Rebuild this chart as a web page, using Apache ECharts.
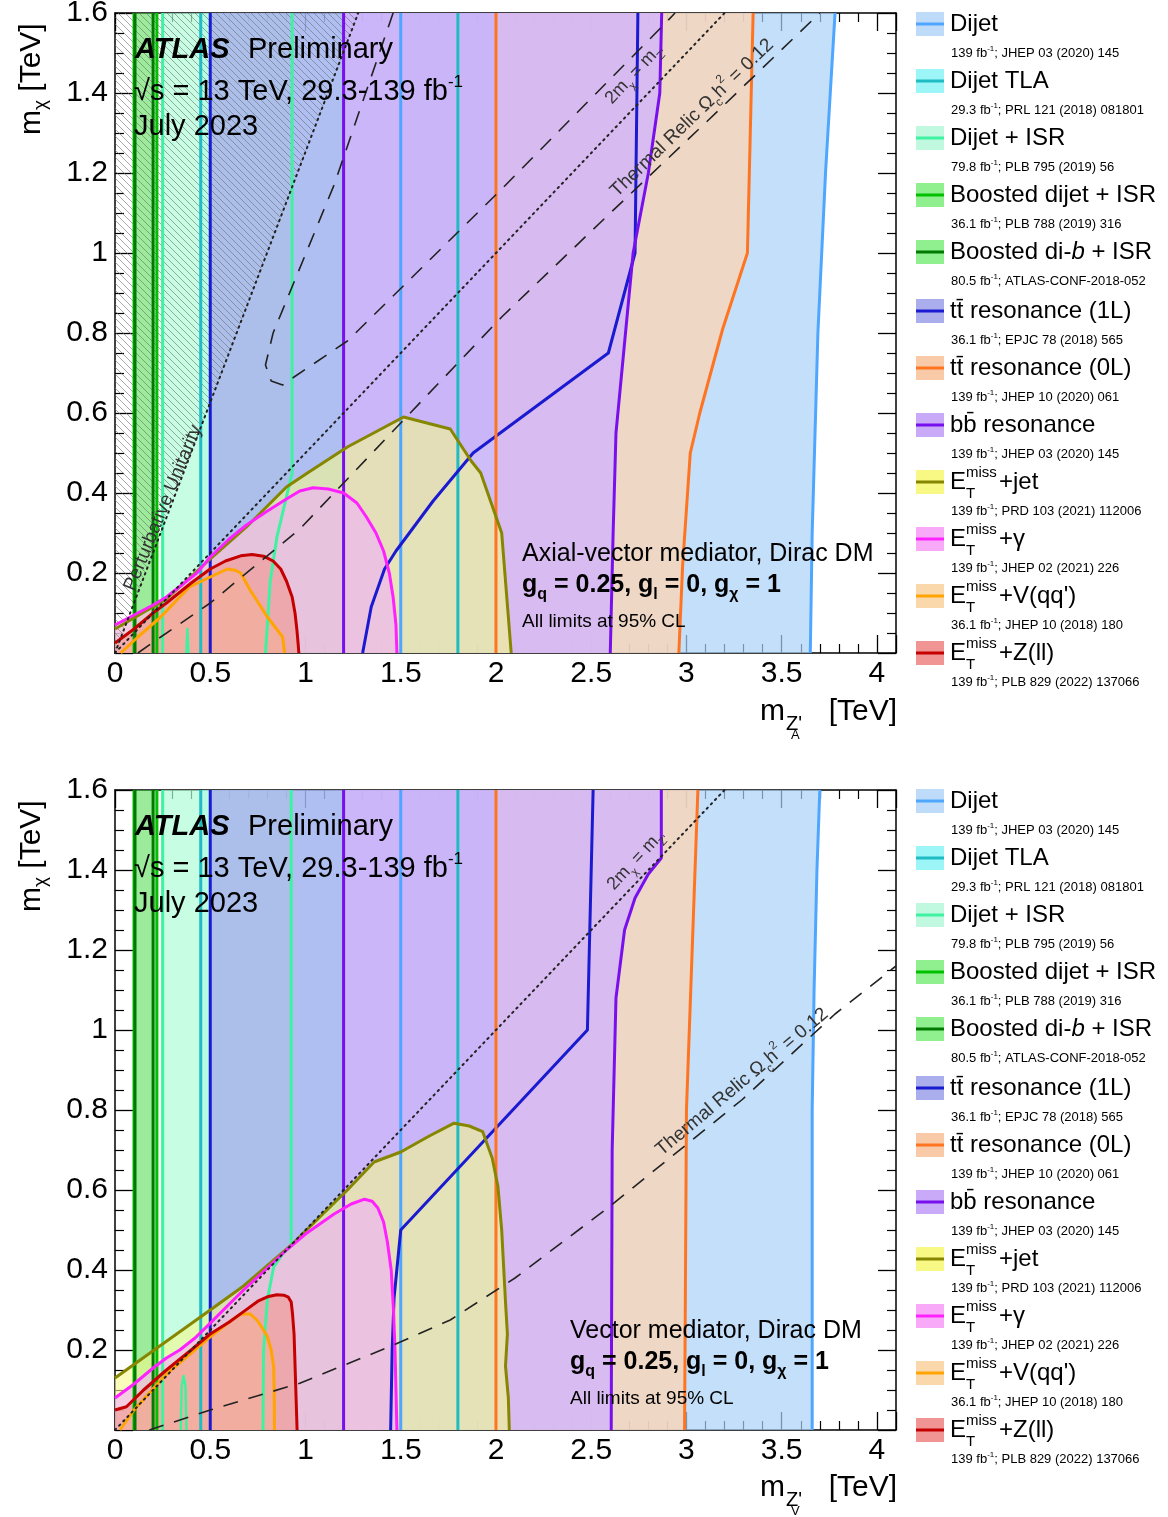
<!DOCTYPE html>
<html><head><meta charset="utf-8">
<script src="https://cdn.jsdelivr.net/npm/echarts/dist/echarts.min.js"></script>
<style>html,body{margin:0;padding:0;background:#fff}#c{width:1168px;height:1517px}</style>
</head><body><div id="c"></div>
<script>
// ---------------- DATA (TeV) ----------------
// Axial-vector mediator (top panel)
const dijetA = [[1.5,0],[1.5,1.6],[3.78,1.6],[3.73,1.2],[3.69,0.8],[3.66,0.3],[3.65,0]];
const tlaA = [[0.45,0],[0.45,1.6],[1.8,1.6],[1.8,0]];
const isrA = [[0.25,0],[0.25,1.6],[0.93,1.6],[0.93,0.45],[0.9,0.39],[0.85,0.29],[0.815,0.18],[0.79,0]];
const boostedDijetA = [[0.1,0],[0.1,1.6],[0.22,1.6],[0.22,0]];
const boostedDibA = [[0.105,0],[0.105,1.6],[0.2,1.6],[0.2,0]];
const tt1LA = [[0.5,0],[0.5,1.6],[2.745,1.6],[2.73,1.0],[2.59,0.75],[1.88,0.5],[1.67,0.38],[1.475,0.255],[1.415,0.21],[1.345,0.115],[1.3,0]];
const tt0LA = [[2.0,0],[2.0,1.6],[3.35,1.6],[3.32,1.0],[3.19,0.81],[3.07,0.6],[3.02,0.5],[2.98,0.22],[2.96,0]];
const bbA = [[1.2,0],[1.2,1.6],[2.87,1.6],[2.86,1.4],[2.8,1.2],[2.72,1.0],[2.68,0.8],[2.63,0.55],[2.615,0.3],[2.6,0]];
const jetA = [[0,0],[0,0.06],[0.27,0.135],[0.5,0.235],[0.69,0.315],[0.9,0.415],[1.01,0.45],[1.22,0.515],[1.515,0.59],[1.76,0.56],[1.87,0.48],[1.92,0.45],[2.03,0.3],[2.08,0]];
const gammaA = [[0,0],[0,0.07],[0.1,0.095],[0.2,0.12],[0.27,0.14],[0.35,0.17],[0.43,0.2],[0.5,0.24],[0.6,0.285],[0.69,0.32],[0.8,0.355],[0.9,0.385],[0.97,0.405],[1.04,0.413],[1.12,0.41],[1.2,0.4],[1.27,0.375],[1.32,0.34],[1.37,0.3],[1.41,0.255],[1.44,0.2],[1.46,0.14],[1.475,0.07],[1.48,0]];
const vqqA = [[0.03,0],[0.12,0.04],[0.24,0.09],[0.39,0.165],[0.5,0.19],[0.59,0.21],[0.63,0.207],[0.66,0.2],[0.71,0.157],[0.8,0.09],[0.88,0.04],[0.89,0]];
const zllA = [[0,0],[0,0.025],[0.1,0.06],[0.2,0.1],[0.27,0.125],[0.4,0.175],[0.5,0.21],[0.58,0.23],[0.66,0.243],[0.72,0.246],[0.78,0.242],[0.83,0.23],[0.87,0.21],[0.9,0.18],[0.93,0.14],[0.945,0.1],[0.955,0.058],[0.962,0.02],[0.965,0]];
const isrSpikeA = [[0.375,0],[0.38,0.06],[0.385,0]];
const relicLowerA = [[0.12,0],[0.24,0.04],[0.5,0.125],[0.97,0.31],[1.41,0.53],[2.03,0.84],[2.6,1.1],[3.11,1.33],[3.7,1.6]];
const relicUpperA = [[1.46,1.6],[1.15,1.17],[0.83,0.8],[0.79,0.72],[0.82,0.68],[0.88,0.67],[0.94,0.69],[1.22,0.78],[2.03,1.16],[2.88,1.57],[2.94,1.6]];
const unitarityA = [[0,0],[1.277,1.6]];

// Vector mediator (bottom panel)
const dijetV = [[1.5,0],[1.5,1.6],[3.70,1.6],[3.685,1.4],[3.67,1.1],[3.66,0.8],[3.66,0]];
const tlaV = [[0.45,0],[0.45,1.6],[1.8,1.6],[1.8,0]];
const isrV = [[0.25,0],[0.25,1.6],[0.925,1.6],[0.925,0.46],[0.88,0.44],[0.833,0.408],[0.8,0.325],[0.78,0.2],[0.777,0]];
const boostedDijetV = [[0.1,0],[0.1,1.6],[0.22,1.6],[0.22,0]];
const boostedDibV = [[0.105,0],[0.105,1.6],[0.2,1.6],[0.2,0]];
const tt1LV = [[0.5,0],[0.5,1.6],[2.51,1.6],[2.48,1.0],[1.5,0.5],[1.465,0.33],[1.455,0.2],[1.447,0]];
const tt0LV = [[2.0,0],[2.0,1.6],[3.06,1.6],[3.03,1.2],[3.0,0.8],[2.99,0]];
const bbV = [[1.2,0],[1.2,1.6],[2.868,1.6],[2.868,1.43],[2.8,1.39],[2.73,1.33],[2.675,1.25],[2.63,1.08],[2.61,0.7],[2.605,0]];
const jetV = [[0,0],[0,0.13],[0.5,0.3],[0.675,0.36],[0.92,0.46],[1.22,0.6],[1.36,0.67],[1.5,0.695],[1.65,0.735],[1.78,0.767],[1.86,0.76],[1.93,0.746],[1.98,0.68],[2.01,0.61],[2.03,0.5],[2.04,0.41],[2.05,0.32],[2.06,0.24],[2.05,0.16],[2.065,0.08],[2.07,0]];
const gammaV = [[0,0],[0,0.08],[0.1,0.115],[0.2,0.155],[0.27,0.18],[0.34,0.2],[0.42,0.23],[0.5,0.267],[0.6,0.315],[0.675,0.35],[0.8,0.405],[0.9,0.45],[1.0,0.49],[1.15,0.54],[1.24,0.565],[1.31,0.577],[1.35,0.572],[1.38,0.555],[1.41,0.52],[1.43,0.47],[1.45,0.4],[1.462,0.3],[1.47,0.2],[1.475,0.1],[1.48,0]];
const vqqV = [[0.026,0],[0.1,0.05],[0.27,0.14],[0.5,0.233],[0.6,0.27],[0.66,0.29],[0.71,0.29],[0.745,0.275],[0.78,0.25],[0.8,0.233],[0.82,0.2],[0.833,0.158],[0.836,0.08],[0.837,0]];
const zllV = [[0,0],[0,0.05],[0.06,0.058],[0.15,0.1],[0.27,0.15],[0.4,0.2],[0.5,0.24],[0.6,0.27],[0.675,0.296],[0.75,0.322],[0.8,0.333],[0.85,0.338],[0.886,0.337],[0.91,0.332],[0.925,0.32],[0.932,0.29],[0.94,0.24],[0.948,0.12],[0.956,0]];
const isrSpikeV = [[0.345,0],[0.35,0.11],[0.36,0.135],[0.37,0.11],[0.375,0]];
const relicV = [[0.18,0],[0.5,0.05],[0.97,0.117],[1.45,0.21],[1.76,0.275],[2.1,0.38],[2.6,0.56],[3.29,0.825],[3.78,1.04],[4.1,1.16]];

const pairLine = [[0,0],[3.2,1.6]];   // 2 m_chi = m_Z'

// Legend
const legendNames = ['Dijet','Dijet TLA','Dijet + ISR','Boosted dijet + ISR','Boosted di-{i|b} + ISR',
  'tt\u0304 resonance (1L)','tt\u0304 resonance (0L)','bb\u0304 resonance','+jet','+\u03b3','+V(qq\')','+Z(ll)'];
const legendLumi = ['139','29.3','79.8','36.1','80.5','36.1','139','139','139','139','36.1','139'];
const legendRefs = ['JHEP 03 (2020) 145','PRL 121 (2018) 081801','PLB 795 (2019) 56','PLB 788 (2019) 316',
  'ATLAS-CONF-2018-052','EPJC 78 (2018) 565','JHEP 10 (2020) 061','JHEP 03 (2020) 145','PRD 103 (2021) 112006',
  'JHEP 02 (2021) 226','JHEP 10 (2018) 180','PLB 829 (2022) 137066'];
const legendMet = [false,false,false,false,false,false,false,false,true,true,true,true];

// ---------------- STYLES ----------------
const FONT = "'Liberation Sans', Arial, Helvetica, sans-serif";
const STY = [
  {fill:'rgba(170,210,248,0.7)', leg:'#bedcfa', line:'#4fa6ff'},   // Dijet
  {fill:'rgba(150,245,245,0.5)', leg:'#9cf6f8', line:'#1fbcc4'},   // TLA
  {fill:'rgba(175,252,215,0.7)', leg:'#c0f9e0', line:'#3ff2a2'},   // Dijet+ISR
  {fill:'rgba(60,220,60,0.35)',  leg:'#90f090', line:'#00c000'},   // Boosted dijet
  {fill:'rgba(60,210,60,0.25)',  leg:'#90f090', line:'#007a00'},   // Boosted di-b
  {fill:'rgba(165,165,238,0.7)', leg:'#aaaeec', line:'#1a1ad0'},   // tt 1L
  {fill:'rgba(250,212,185,0.8)', leg:'#f8caa8', line:'#ff7420'},   // tt 0L
  {fill:'rgba(210,180,250,0.8)', leg:'#c8aaf8', line:'#7810ee'},   // bb
  {fill:'rgba(245,250,140,0.6)', leg:'#f8f884', line:'#868600'},   // MET+jet
  {fill:'rgba(240,175,250,0.6)', leg:'#f8aaf8', line:'#ff22ff'},   // MET+gamma
  {fill:'rgba(250,215,170,0.6)', leg:'#fad8ac', line:'#ffa400'},   // MET+V
  {fill:'rgba(240,150,140,0.6)', leg:'#f09494', line:'#c40000'}    // MET+Z
];
const BAND = [true,true,true,true,true,true,true,true,false,false,false,false];

const panels = [
  {xi:0, yi:0, regions:[dijetA,tlaA,isrA,boostedDijetA,boostedDibA,tt1LA,tt0LA,bbA,jetA,gammaA,vqqA,zllA],
   spike:isrSpikeA, relic:[relicLowerA, relicUpperA], hatch:unitarityA},
  {xi:2, yi:2, regions:[dijetV,tlaV,isrV,boostedDijetV,boostedDibV,tt1LV,tt0LV,bbV,jetV,gammaV,vqqV,zllV],
   spike:isrSpikeV, relic:[relicV], hatch:null}
];

// hatch pattern
const hc = document.createElement('canvas'); hc.width = 7; hc.height = 7;
(function(){ const c = hc.getContext('2d'); c.strokeStyle = 'rgba(110,110,110,0.6)'; c.lineWidth = 1;
  c.beginPath(); c.moveTo(0,0); c.lineTo(7,7); c.moveTo(-1,6); c.lineTo(1,8); c.moveTo(6,-1); c.lineTo(8,1); c.stroke(); })();
const HATCH = {image: hc, repeat: 'repeat'};

// ---------------- SERIES ----------------
function fillSeries(pts, fill, xi, yi) {
  return {type:'custom', xAxisIndex:xi, yAxisIndex:yi, silent:true, z:2, data:pts,
    encode:{x:0, y:1},
    renderItem: function(params, api) {
      if (params.dataIndex !== 0) return null;
      return {type:'polygon', shape:{points: pts.map(p => api.coord(p))}, style:{fill: fill, stroke: null}};
    }};
}
function lineSeries(pts, color, width, type, xi, yi, z) {
  return {type:'line', xAxisIndex:xi, yAxisIndex:yi, data:pts, silent:true, z:z||4,
    symbol:'none', showSymbol:false, smooth:false,
    lineStyle:{color:color, width:width, type:type||'solid', cap: Array.isArray(type) && type[0] < 3 ? 'round' : 'butt', join:'round'}};
}
const series = [];
panels.forEach(P => {
  P.regions.forEach((poly, k) => series.push(fillSeries(poly, STY[k].fill, P.xi, P.yi)));
  if (P.hatch) series.push(fillSeries([[0,0],[0,1.6],P.hatch[1]], HATCH, P.xi, P.yi));
  P.regions.forEach((poly, k) => {
    if (BAND[k]) {
      series.push(lineSeries(poly.slice(0,2), STY[k].line, 3, 'solid', P.xi, P.yi));
      series.push(lineSeries(poly.slice(2), STY[k].line, 3, 'solid', P.xi, P.yi));
    } else {
      const e = (poly[0][0] === 0 && poly[1][0] === 0) ? poly.slice(1) : poly;
      series.push(lineSeries(e, STY[k].line, 3, 'solid', P.xi, P.yi));
    }
  });
  series.push(lineSeries(P.spike, STY[2].line, 2.5, 'solid', P.xi, P.yi));
  P.relic.forEach(r => series.push(lineSeries(r, '#222', 1.6, [15,11], P.xi, P.yi, 5)));
  series.push(lineSeries(pairLine, '#222', 2, [1.5,4.5], P.xi, P.yi, 5));
  if (P.hatch) series.push(lineSeries(P.hatch, '#222', 2, [1.5,4.5], P.xi, P.yi, 5));
});

// ---------------- AXES ----------------
function mkX(g, pos, lab) {
  return {type:'value', gridIndex:g, position:pos, min:0, max:4.1, interval:0.5,
    axisLine:{show:true, onZero:false, lineStyle:{color:'#000', width:1.5}},
    axisTick:{show:true, inside:true, length:18, lineStyle:{color:'#000', width:1.3}},
    minorTick:{show:true, splitNumber:5, length:9, lineStyle:{color:'#000', width:1.2}},
    splitLine:{show:false}, minorSplitLine:{show:false},
    axisLabel:{show:lab, margin:6, color:'#000', fontSize:30, fontFamily:FONT, showMaxLabel:false,
      formatter: v => v > 4.05 ? '' : String(+v.toFixed(2))}};
}
function mkY(g, pos, lab) {
  return {type:'value', gridIndex:g, position:pos, min:0, max:1.6, interval:0.2,
    axisLine:{show:true, onZero:false, lineStyle:{color:'#000', width:1.5}},
    axisTick:{show:true, inside:true, length:18, lineStyle:{color:'#000', width:1.3}},
    minorTick:{show:true, splitNumber:4, length:9, lineStyle:{color:'#000', width:1.2}},
    splitLine:{show:false}, minorSplitLine:{show:false},
    axisLabel:{show:lab, margin:7, color:'#000', fontSize:30, fontFamily:FONT, showMinLabel:false,
      formatter: v => String(+v.toFixed(2))}};
}

// ---------------- TEXT / GRAPHIC ----------------
function richFor(size, weight, subRatio, color) {
  const s = Math.round(size * (subRatio || 0.62));
  const c = color || '#000';
  return {
    i:{fontSize:size, fontFamily:FONT, fontWeight:weight, fontStyle:'italic', fill:c},
    s:{fontSize:s, lineHeight:s, fontFamily:FONT, fontWeight:weight, fill:c, verticalAlign:'bottom'},
    p:{fontSize:s, lineHeight:s, fontFamily:FONT, fontWeight:weight, fill:c, verticalAlign:'top'}
  };
}
function T(x, y, text, size, o) {
  o = o || {};
  const w = o.weight || 'normal';
  return {type:'text', x:x, y:y, rotation:o.rot || 0, z:100, silent:true,
    style:{text:text, fontSize:size, fontFamily:FONT, fontWeight:w, fontStyle:o.italic ? 'italic' : 'normal',
      fill:o.color || '#000', align:o.align || 'left', verticalAlign:'middle',
      lineHeight:o.lh || size, rich:richFor(size, w, o.sr, o.color)}};
}
const els = [];
const deg = Math.PI / 180;
[0, 777].forEach((dy, pi) => {
  // ATLAS label
  els.push(T(135, 50 + dy, 'ATLAS', 29, {weight:'bold', italic:true}));
  els.push(T(248, 50 + dy, 'Preliminary', 29));
  els.push(T(134, 92 + dy, '\u221as = 13 TeV, 29.3-139 fb{p|-1}', 29, {lh:37, sr:0.6}));
  els.push(T(134, 127 + dy, 'July 2023', 29));
  // model text
  const mx = pi === 0 ? 522 : 570;
  const my = pi === 0 ? 554 : 1331;
  els.push(T(mx, my, pi === 0 ? 'Axial-vector mediator, Dirac DM' : 'Vector mediator, Dirac DM', 25));
  els.push(T(mx, my + 31, 'g{s|q} = 0.25, g{s|l} = 0, g{s|\u03c7} = 1', 25, {weight:'bold', lh:35, sr:0.62}));
  els.push(T(mx, my + 68, 'All limits at 95% CL', 19));
  // y title
  els.push(T(32, 135 + dy, 'm{s|\u03c7} [TeV]', 30, {rot:90*deg, lh:36}));
  // x title
  const ty = pi === 0 ? 712 : 1488;
  els.push(T(760, ty, 'm', 30));
  els.push(T(786, ty + 12, "Z'", 20));
  els.push(T(791, ty + 23, pi === 0 ? 'A' : 'V', 13));
  els.push(T(897, ty, '[TeV]', 30, {align:'right'}));
  // legend
  for (let i = 0; i < 12; i++) {
    const cy = 24 + dy + i * 57 + (i >= 5 ? 2 : 0);
    els.push({type:'rect', z:90, silent:true, shape:{x:916, y:cy - 12, width:28, height:24}, style:{fill:STY[i].leg}});
    els.push({type:'line', z:91, silent:true, shape:{x1:916, y1:cy, x2:944, y2:cy}, style:{stroke:STY[i].line, lineWidth:3}});
    if (legendMet[i]) {
      els.push(T(950, cy, 'E', 24));
      els.push(T(966, cy - 9, 'miss', 15));
      els.push(T(966, cy + 12, 'T', 15));
      els.push(T(999, cy, legendNames[i], 24));
    } else {
      els.push(T(950, cy, legendNames[i], 24));
    }
    els.push(T(951, cy + 29, legendLumi[i] + ' fb{p|-1}; ' + legendRefs[i], 13, {lh:17, sr:0.62}));
  }
});
// rotated annotations
els.push(T(163, 508, 'Perturbative Unitarity', 19, {align:'center', rot:67.7*deg, color:'#333'}));
els.push(T(634, 74, "2m{s|\u03c7} = m{s|Z'}", 18, {align:'center', rot:47*deg, color:'#333', lh:26}));
els.push(T(636, 860, "2m{s|\u03c7} = m{s|Z'}", 18, {align:'center', rot:47*deg, color:'#333', lh:26}));
els.push(T(692, 118, 'Thermal Relic \u03a9{s|c}h{p|2} = 0.12', 19, {align:'center', rot:44*deg, color:'#333', lh:28}));
els.push(T(742, 1082, 'Thermal Relic \u03a9{s|c}h{p|2} = 0.12', 19, {align:'center', rot:40*deg, color:'#333', lh:28}));

const chart = echarts.init(document.getElementById('c'), null, {renderer:'canvas'});
chart.setOption({
  animation:false,
  backgroundColor:'#fff',
  grid:[
    {left:115, top:13, width:781, height:640, outerBoundsMode:'none'},
    {left:115, top:790, width:781, height:640, outerBoundsMode:'none'}
  ],
  xAxis:[mkX(0,'bottom',true), mkX(0,'top',false), mkX(1,'bottom',true), mkX(1,'top',false)],
  yAxis:[mkY(0,'left',true), mkY(0,'right',false), mkY(1,'left',true), mkY(1,'right',false)],
  series: series,
  graphic:{elements: els}
});
</script></body></html>
